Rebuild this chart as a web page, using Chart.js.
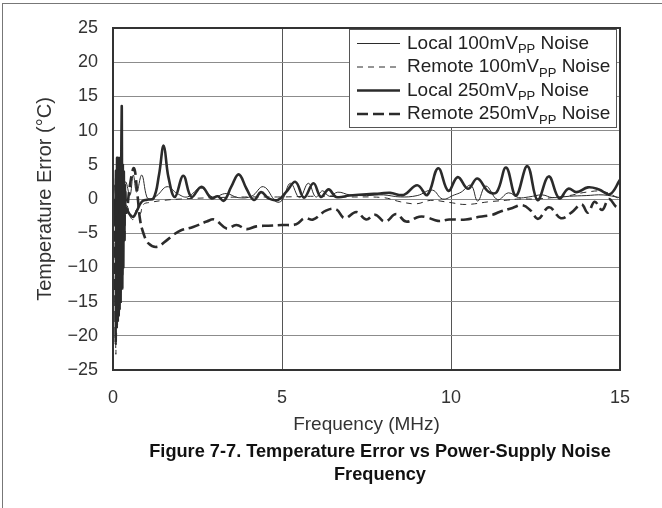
<!DOCTYPE html>
<html>
<head>
<meta charset="utf-8">
<title>Temperature Error vs Power-Supply Noise Frequency</title>
<script src="https://cdn.jsdelivr.net/npm/chart.js@4.4.1/dist/chart.umd.min.js"></script>
<style>
  html, body { margin: 0; padding: 0; background: #fff; }
  #wrap { position: relative; width: 662px; height: 508px; overflow: hidden; }
  #edge { position: absolute; left: 2px; top: 3px; right: -2px; bottom: -2px; border-left: 1px solid #777; border-top: 1px solid #777; }
  canvas { position: absolute; left: 0; top: 0; }
  #caption { position: absolute; left: 130px; width: 500px; top: 440px; text-align: center;
             font: bold 18.2px "Liberation Sans", Arial, sans-serif; line-height: 23px; color: #111; }
</style>
</head>
<body>
<div id="wrap">
  <div id="edge"></div>
  <canvas id="chart" width="662" height="508"></canvas>
  <div id="caption">Figure 7-7. Temperature Error vs Power-Supply Noise<br>Frequency</div>
</div>
<script>
// values (MHz, °C)
const xTicks = [0, 5, 10, 15];
const yTicks = [-25, -20, -15, -10, -5, 0, 5, 10, 15, 20, 25];

const local100Freq = [0, 0.06, 0.09, 0.12, 0.15, 0.18, 0.21, 0.24, 0.28, 0.32, 0.38, 0.5, 0.6, 0.7, 0.85, 1.0, 1.1, 1.3, 1.6, 1.9, 2.2, 2.6, 2.95, 3.35, 3.7, 4.1, 4.45, 4.83, 5.0, 5.25, 5.52, 5.78, 6.0, 6.2, 6.4, 6.65, 7.0, 7.5, 8.0, 8.5, 9.0, 9.45, 9.75, 10.1, 10.3, 10.59, 10.79, 11.03, 11.38, 11.7, 12.0, 12.3, 12.7, 13.0, 13.5, 14.0, 14.5, 15.0];
const local100Err  = [0, 2, -6, 4, -8, 5, -6, 3, -3, 1.5, 2.5, 0.5, 3.5, 1.0, 3.5, 0.3, 0, 0.5, 1.8, 0.8, 0.3, 1.6, 0.3, 0.8, 0.2, 0.4, 1.8, -0.4, -0.2, 2.3, 0.2, 2.3, 0.3, 1.2, 0.4, 1.0, 0.6, 0.5, 0.6, 0.3, 0.5, 1.3, 0, 0.6, 1.0, 2.0, -0.3, 1.9, -0.1, 0.9, 0.2, 0.3, 0.6, 0.2, 0.4, 0.5, 0.6, 0.2];

const remote100Freq = [0, 0.05, 0.085, 0.1, 0.13, 0.16, 0.19, 0.22, 0.25, 0.29, 0.33, 0.37, 0.42, 0.5, 0.6, 0.7, 0.8, 0.9, 1.1, 1.5, 2.0, 3.0, 4.0, 5.0, 6.0, 7.0, 8.0, 8.5, 8.97, 9.4, 9.95, 10.44, 11.13, 11.6, 12.0, 12.5, 13.0, 13.5, 14.0, 14.5, 15.0];
const remote100Err  = [0, -3, -22.7, -2, -18, -1, -14, -1, -10, -2, -6, -1, -1, -2.5, -3, -1.5, -2.2, -0.8, -0.5, -0.2, 0, 0.2, 0.3, 0.3, 0.4, 0.3, 0.2, -0.4, -0.7, -0.2, -0.5, -0.8, -0.4, -0.2, 0, 0, 0.2, 0.5, 1.0, 1.1, 0];

const local250Freq = [0, 0.06, 0.09, 0.105, 0.12, 0.135, 0.15, 0.165, 0.18, 0.195, 0.21, 0.225, 0.245, 0.26, 0.275, 0.29, 0.305, 0.32, 0.335, 0.35, 0.37, 0.4, 0.5, 0.6, 0.7, 0.85, 1.0, 1.2, 1.36, 1.5, 1.64, 1.83, 2.08, 2.32, 2.62, 2.91, 3.1, 3.28, 3.5, 3.72, 3.95, 4.17, 4.38, 4.6, 4.88, 5.12, 5.4, 5.65, 5.93, 6.15, 6.38, 6.6, 7.0, 7.5, 7.9, 8.2, 8.6, 9.0, 9.3, 9.62, 9.92, 10.2, 10.5, 10.78, 11.1, 11.35, 11.63, 11.92, 12.26, 12.56, 12.89, 13.2, 13.47, 13.72, 14.05, 14.38, 14.7, 15.0];
const local250Err  = [0, -3, 4, -14, 6, -16, 6, -17, 6, -16, 6, -15, 6, 13.3, -13, 5, -10, 4, -6, 2, -2, -1.5, -2.3, -2.6, -1.8, -0.4, -0.1, 0.1, 3.5, 7.8, 3.2, 0.3, 3.4, 0.3, 1.8, 0.1, 0.4, -0.25, 1.8, 3.6, 1.5, -0.15, 1.0, 0.1, -0.15, 1.0, 2.5, 0.2, 2.3, 0.3, 1.4, 0.3, 0.5, 0.7, 0.8, 0.9, 0.6, 2.0, 0.6, 4.5, 1.2, 3.2, 1.5, 3.0, 1.1, 1.0, 4.6, 0.5, 4.8, -0.15, 3.3, 0.1, 1.5, 1.0, 1.7, 1.4, 0.7, 2.8];

const remote250Freq = [0, 0.05, 0.08, 0.095, 0.11, 0.125, 0.14, 0.155, 0.17, 0.185, 0.2, 0.215, 0.23, 0.25, 0.27, 0.3, 0.33, 0.36, 0.4, 0.5, 0.62, 0.72, 0.8, 0.9, 1.05, 1.3, 1.55, 1.8, 2.0, 2.37, 2.77, 3.0, 3.36, 3.65, 3.95, 4.24, 4.6, 5.0, 5.42, 5.67, 5.92, 6.3, 6.6, 6.85, 7.2, 7.49, 7.75, 8.05, 8.38, 8.67, 9.06, 9.3, 9.61, 9.95, 10.44, 10.84, 11.23, 11.43, 11.82, 12.11, 12.36, 12.58, 12.9, 13.25, 13.56, 13.86, 14.05, 14.25, 14.47, 14.67, 14.9, 15.0];
const remote250Err  = [0, -5, -21, 3, -19, 4, -18, 4, -17, 4, -15, 5, -13, 6, -11, 2, -6, 1, -2, 2, 4.5, 0.8, -3, -5, -6.5, -7.0, -6.2, -5.2, -4.6, -4.1, -3.3, -3.0, -4.3, -3.8, -4.4, -4.0, -3.9, -3.8, -3.7, -2.8, -3.0, -1.7, -1.5, -2.8, -1.9, -3.0, -2.3, -3.3, -2.2, -3.3, -2.6, -2.7, -3.2, -3.0, -3.0, -2.6, -2.3, -1.9, -1.3, -0.9, -1.7, -2.9, -1.2, -2.8, -2.0, -0.8, -2.0, -0.4, -1.6, 0, -1.2, -1.0];

const seriesNames = ['Local 100mV', 'Remote 100mV', 'Local 250mV', 'Remote 250mV'];

function pts(xs, ys) {
  return xs.map((x, i) => ({ x: x, y: ys[i] }));
}

const ink = '#2b2b2b';
const lineStyles = [
  { width: 1, dash: [] },
  { width: 1, dash: [6, 5] },
  { width: 2.6, dash: [] },
  { width: 2.6, dash: [11, 5] }
];

const fontFamily = '"Liberation Sans", Arial, sans-serif';

// draws box around plot + the legend with subscripts
const framePlugin = {
  id: 'frame',
  afterDraw(chart) {
    const ctx = chart.ctx;
    const a = chart.chartArea;
    ctx.save();
    ctx.strokeStyle = '#333';
    ctx.lineWidth = 2;
    ctx.strokeRect(a.left, a.top, a.right - a.left, a.bottom - a.top);

    // legend
    const lx = 349.5, ly = 29.5, lw = 267, lh = 98;
    ctx.fillStyle = '#fff';
    ctx.fillRect(lx, ly, lw, lh);
    ctx.strokeStyle = '#555';
    ctx.lineWidth = 1;
    ctx.strokeRect(lx, ly, lw, lh);
    const rows = [43.5, 67, 90.5, 114];
    seriesNames.forEach((name, i) => {
      const y = rows[i];
      ctx.strokeStyle = ink;
      ctx.lineWidth = lineStyles[i].width;
      ctx.setLineDash(lineStyles[i].dash);
      ctx.beginPath();
      ctx.moveTo(357, y);
      ctx.lineTo(400, y);
      ctx.stroke();
      ctx.setLineDash([]);
      ctx.fillStyle = '#222';
      ctx.textBaseline = 'middle';
      ctx.textAlign = 'left';
      ctx.font = '19px ' + fontFamily;
      let x = 407;
      ctx.fillText(name, x, y);
      x += ctx.measureText(name).width;
      ctx.font = '13px ' + fontFamily;
      ctx.fillText('PP', x, y + 6);
      x += ctx.measureText('PP').width;
      ctx.font = '19px ' + fontFamily;
      ctx.fillText(' Noise', x, y);
    });
    ctx.restore();
  }
};

const minus = v => String(v).replace('-', '\u2212');

new Chart(document.getElementById('chart'), {
  type: 'line',
  data: {
    datasets: [
      [local100Freq, local100Err],
      [remote100Freq, remote100Err],
      [local250Freq, local250Err],
      [remote250Freq, remote250Err]
    ].map((s, i) => ({
      label: seriesNames[i] + 'PP Noise',
      data: pts(s[0], s[1]),
      borderColor: ink,
      borderWidth: lineStyles[i].width,
      borderDash: lineStyles[i].dash,
      pointRadius: 0,
      tension: 0.4,
      fill: false,
      order: 4 - i
    }))
  },
  options: {
    responsive: false,
    animation: false,
    layout: { padding: { left: 0, right: 42, top: 28, bottom: 68 } },
    plugins: {
      legend: { display: false },
      tooltip: { enabled: false }
    },
    scales: {
      x: {
        type: 'linear',
        min: 0,
        max: 15,
        afterBuildTicks: s => { s.ticks = xTicks.map(v => ({ value: v })); },
        afterFit: s => { s.height = 70; },
        grid: {
          drawTicks: false,
          color: c => (c.tick && (c.tick.value === 5 || c.tick.value === 10)) ? '#555' : 'rgba(0,0,0,0)',
          lineWidth: 1
        },
        border: { display: false },
        ticks: { font: { size: 18, family: fontFamily }, color: '#333', padding: 17, callback: minus },
        title: { display: true, text: 'Frequency (MHz)', color: '#333',
                 font: { size: 19, family: fontFamily }, padding: { top: 0, bottom: 4 } }
      },
      y: {
        min: -25,
        max: 25,
        afterBuildTicks: s => { s.ticks = yTicks.map(v => ({ value: v })); },
        afterFit: s => { s.width = 113; },
        grid: { drawTicks: false, color: '#8c8c8c', lineWidth: 1 },
        border: { display: false },
        ticks: { font: { size: 18, family: fontFamily }, color: '#333', padding: 15, callback: minus },
        title: { display: true, text: 'Temperature Error (°C)', color: '#333',
                 font: { size: 20, family: fontFamily }, padding: { top: 33, bottom: 0 } }
      }
    }
  },
  plugins: [framePlugin]
});
</script>
</body>
</html>
